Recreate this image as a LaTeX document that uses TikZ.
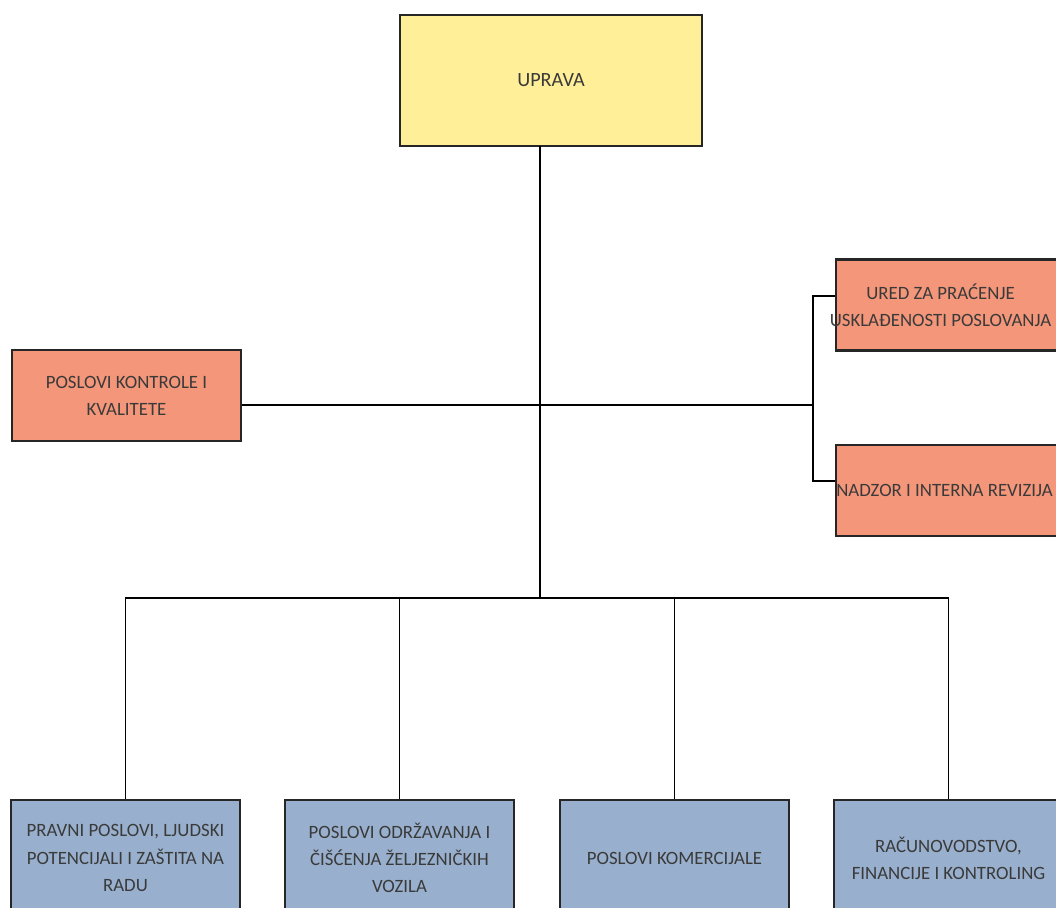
\documentclass[tikz,border=0pt]{standalone}
\usepackage{fontspec}
\setmainfont{Carlito}
\usepackage{tikz}
\usetikzlibrary{calc,positioning}
\definecolor{myyellow}{RGB}{255,239,153}
\definecolor{mysalmon}{RGB}{244,150,122}
\definecolor{myblue}{RGB}{152,176,205}
\definecolor{mytext}{RGB}{58,58,58}
\tikzstyle{unittext}=[text=mytext,align=center,inner sep=0pt,font=\fontsize{10.7}{15.4}\selectfont]
\tikzstyle{unit}=[unittext,draw=black!85,line width=1.2pt,minimum width=4.58cm,minimum height=1.82cm]
\tikzstyle{headunit}=[unit,fill=myyellow,minimum width=6.04cm,minimum height=2.62cm,font=\fontsize{11.5}{15.4}\selectfont]
\tikzstyle{staffunit}=[unit,fill=mysalmon]
\tikzstyle{lineunit}=[unit,fill=myblue,minimum height=2.32cm]

\begin{document}
\begin{tikzpicture}[line width=1pt]
\useasboundingbox (0,0) rectangle (21.12,-18.16);
\clip (0,0) rectangle (21.12,-18.16);
\draw (11.02, -1.61) node [headunit] (uprava) {UPRAVA};
\draw (2.53, -7.91) node [staffunit] (kontrola) {POSLOVI KONTROLE I\\KVALITETE};
\draw (19.01, -6.10) node [staffunit] (ured) {};
\draw (19.01, -9.81) node [staffunit] (nadzor) {};
\node [unittext] (uredtext) at ($(ured.center)+(-0.2,0)$) {URED ZA PRAĆENJE\\USKLAĐENOSTI POSLOVANJA};
\node [unittext] (nadzortext) at ($(nadzor.center)+(-0.12,0)$) {NADZOR I INTERNA REVIZIJA};
\draw (2.51, -17.16) node [lineunit] (pravni) {PRAVNI POSLOVI, LJUDSKI\\POTENCIJALI I ZAŠTITA NA\\RADU};
\draw (7.99, -17.16) node [lineunit] (odrzavanje) {POSLOVI ODRŽAVANJA I\\ČIŠĆENJA ŽELJEZNIČKIH\\VOZILA};
\draw (13.49, -17.16) node [lineunit] (komercijala) {POSLOVI KOMERCIJALE};
\draw (18.97, -17.16) node [lineunit] (racunovodstvo) {RAČUNOVODSTVO,\\FINANCIJE I KONTROLING};
% junctions
\coordinate (top) at (10.8, -2.92);
\coordinate (mid) at (10.8, -8.10);
\coordinate (bus) at (10.8, -11.96);
\coordinate (br) at (16.26, -8.10);
% lines
\draw (top) -- (bus);
\draw (kontrola.east |- mid) -- (br);
\draw ($(ured.west)+(0,0.18)$) -| (br) |- ($(nadzor.west)+(0,0.19)$);
\draw (pravni.north) |- (bus) -| (racunovodstvo.north);
\draw (odrzavanje.north) -- (odrzavanje.north |- bus);
\draw (komercijala.north) -- (komercijala.north |- bus);
\end{tikzpicture}
\end{document}
